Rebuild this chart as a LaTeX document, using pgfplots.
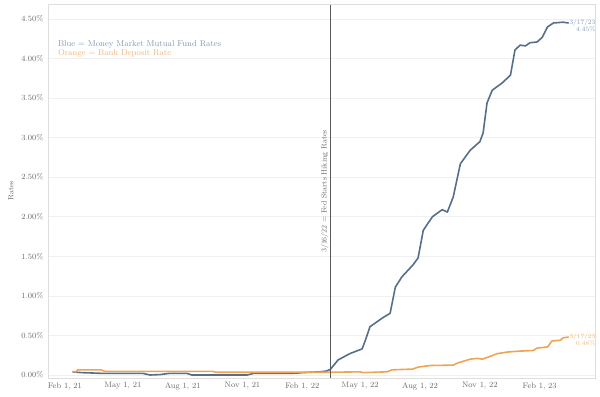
\documentclass[border=0pt]{standalone}
\usepackage{pgfplots}
\pgfplotsset{compat=1.18}
\definecolor{mmblue}{RGB}{86,110,138}
\definecolor{bkorange}{RGB}{240,163,82}
\definecolor{mmbluetxt}{RGB}{128,152,182}
\definecolor{bkorangetxt}{RGB}{236,182,122}
\definecolor{gridc}{RGB}{240,240,240}
\definecolor{framec}{RGB}{222,222,222}
\definecolor{tickc}{RGB}{105,105,105}
\definecolor{hikec}{RGB}{90,90,90}
\begin{document}
\begin{tikzpicture}
\begin{axis}[
  scale only axis,
  width=547bp, height=374bp,
  xmin=-26, xmax=815,
  ymin=-0.038, ymax=4.69,
  axis line style={framec},
  xtick={0,89,181,273,365,454,546,638,730},
  xticklabels={{Feb 1, 21},{May 1, 21},{Aug 1, 21},{Nov 1, 21},{Feb 1, 22},{May 1, 22},{Aug 1, 22},{Nov 1, 22},{Feb 1, 23}},
  ytick={0,0.5,1,1.5,2,2.5,3,3.5,4,4.5},
  yticklabel={\pgfmathprintnumber[fixed,fixed zerofill,precision=2]{\tick}\%},
  /pgf/number format/assume math mode=true,
  ymajorgrids, grid style={gridc, line width=0.6pt},
  major tick length=0pt,
  tick label style={font=\fontsize{8}{9}\selectfont, text=tickc},
  yticklabel style={xshift=-1pt},
  xticklabel style={yshift=-1pt},
  ylabel={Rates},
  ylabel style={font=\fontsize{7.5}{8}\selectfont, text=tickc, yshift=1pt},
  clip=false,
  every axis plot/.append style={line join=round, line cap=round},
]
% Money market mutual fund rates (blue)
\addplot[mmblue, line width=1.6pt] coordinates {
(12,0.04) (25,0.03) (60,0.02) (120,0.02) (131,0.00) (146,0.005) (160,0.02)
(188,0.02) (195,0.00) (280,0.00) (290,0.02) (350,0.02) (365,0.03) (392,0.04)
(402,0.05) (408,0.07)
(420,0.19) (438,0.27) (457,0.33) (462,0.44) (469,0.61) (488,0.72) (500,0.78)
(508,1.11) (518,1.24) (535,1.39) (543,1.48) (551,1.83) (565,2.00) (580,2.09)
(588,2.06) (597,2.25) (608,2.67) (623,2.84) (638,2.95) (643,3.06) (649,3.44)
(657,3.60) (672,3.69) (685,3.79) (692,4.11) (700,4.17) (708,4.16) (715,4.20)
(726,4.21) (734,4.27) (742,4.40) (751,4.45) (766,4.46) (774,4.45)
};
% Bank deposit rate (orange)
\addplot[bkorange, line width=1.6pt] coordinates {
(12,0.045) (17,0.04) (20,0.065) (55,0.065) (62,0.045) (228,0.045) (232,0.035)
(408,0.035) (454,0.04) (458,0.03) (495,0.04) (503,0.065) (535,0.075) (543,0.10)
(562,0.12) (597,0.125) (605,0.155) (623,0.20) (634,0.21) (642,0.20) (665,0.27)
(680,0.29) (695,0.30) (720,0.31) (726,0.34) (742,0.355) (749,0.43) (762,0.44)
(766,0.47) (774,0.48)
};
% Fed hiking line
\draw[hikec, line width=0.8pt] (axis cs:408,-0.038) -- (axis cs:408,4.69);
\node[rotate=90, anchor=south, text=tickc, font=\fontsize{7.5}{8}\selectfont, inner sep=1.5pt]
  at (axis cs:408,2.32) {3/16/22 = Fed Starts Hiking Rates};
% Legend-like texts
\node[anchor=west, text=mmbluetxt, font=\fontsize{8.5}{9}\selectfont, inner sep=0pt]
  at (rel axis cs:0.018,0.893) {Blue = Money Market Mutual Fund Rates};
\node[anchor=west, text=bkorangetxt, font=\fontsize{8.5}{9}\selectfont, inner sep=0pt]
  at (rel axis cs:0.018,0.869) {Orange = Bank Deposit Rate};
% End annotations
\node[anchor=west, align=right, text=mmbluetxt, font=\fontsize{6.5}{7}\selectfont, inner sep=1pt]
  at (axis cs:774,4.41) {3/17/23\\4.45\%};
\node[anchor=west, align=right, text=bkorangetxt, font=\fontsize{6.5}{7}\selectfont, inner sep=1pt]
  at (axis cs:774,0.45) {3/17/23\\0.48\%};
% right/top frame
\draw[framec] (rel axis cs:0,1) -- (rel axis cs:1,1) -- (rel axis cs:1,0);
\end{axis}
\path (current axis.south west) ++(-48bp,-18bp) coordinate (bbsw);
\path (current axis.north east) ++(5bp,4bp) coordinate (bbne);
\path (bbsw) rectangle (bbne);
\end{tikzpicture}
\end{document}
